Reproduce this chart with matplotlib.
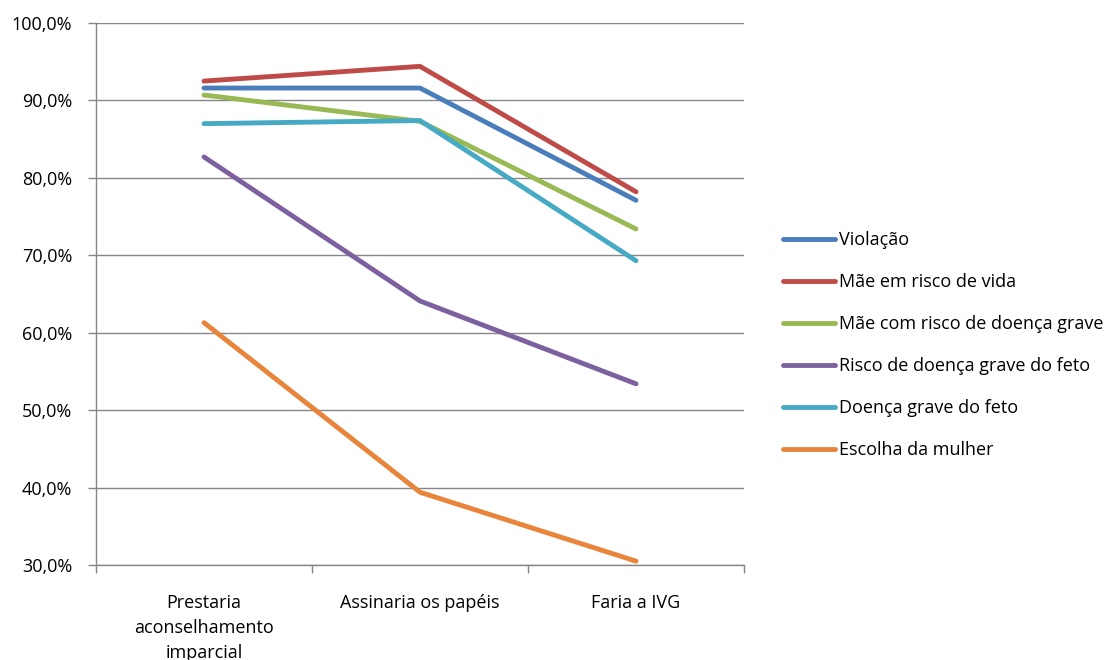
import matplotlib
matplotlib.use("Agg")
import matplotlib.pyplot as plt
from matplotlib.ticker import FuncFormatter
from matplotlib.lines import Line2D

categories = ["Prestaria\naconselhamento\nimparcial", "Assinaria os papéis", "Faria a IVG"]
series_names = ["Violação", "Mãe em risco de vida", "Mãe com risco de doença grave",
                "Risco de doença grave do feto", "Doença grave do feto", "Escolha da mulher"]
violacao = [91.6, 91.6, 77.1]
mae_risco_vida = [92.5, 94.4, 78.2]
mae_doenca_grave = [90.7, 87.3, 73.4]
risco_doenca_feto = [82.7, 64.1, 53.4]
doenca_grave_feto = [87.0, 87.4, 69.3]
escolha_mulher = [61.3, 39.4, 30.5]
yticks = [30, 40, 50, 60, 70, 80, 90, 100]

series = [violacao, mae_risco_vida, mae_doenca_grave, risco_doenca_feto, doenca_grave_feto, escolha_mulher]
colors = ["#4A7EBB", "#BE4B48", "#98B954", "#7D60A0", "#46AAC5", "#E8853A"]

plt.rcParams['font.family'] = ['Open Sans', 'DejaVu Sans']
FS = 13

fig = plt.figure(figsize=(11.18, 6.6), dpi=100)
ax = fig.add_axes([96/1118, 1-565/660, (744-96)/1118, (565-23)/660])

x = [0.5, 1.5, 2.5]
for vals, c, name in zip(series, colors, series_names):
    ax.plot(x, vals, color=c, lw=3.5, solid_capstyle='round', solid_joinstyle='round', label=name, zorder=3)

ax.set_xlim(0, 3)
ax.set_ylim(30, 100)
ax.set_yticks(yticks)
ax.yaxis.set_major_formatter(FuncFormatter(lambda v, p: f"{v:.1f}%".replace('.', ',')))
ax.grid(axis='y', color='#868686', lw=1.0, zorder=0)
ax.set_xticks([0, 1, 2, 3], minor=False)
ax.set_xticklabels([])
ax.set_xticks(x, minor=True)
ax.set_xticklabels(categories, minor=True, fontsize=FS, color='#000000', linespacing=1.5)
ax.tick_params(axis='x', which='minor', length=0, pad=21)
ax.tick_params(axis='x', which='major', length=6, color='#868686', width=1)
ax.tick_params(axis='y', length=6, color='#868686', width=1, labelsize=FS, pad=11)
for s in ['top', 'right']:
    ax.spines[s].set_visible(False)
for s in ['left', 'bottom']:
    ax.spines[s].set_color('#868686')
    ax.spines[s].set_linewidth(1.0)

handles = [Line2D([0], [0], color=c, lw=3.5, solid_capstyle='round') for c in colors]
fig.legend(handles, series_names, loc='upper left', bbox_to_anchor=(783/1118, 1-231/660),
           frameon=False, fontsize=FS, handlelength=2.9, handletextpad=0.2,
           labelspacing=1.33, borderaxespad=0, borderpad=0)

fig.savefig("out.png", dpi=100)
